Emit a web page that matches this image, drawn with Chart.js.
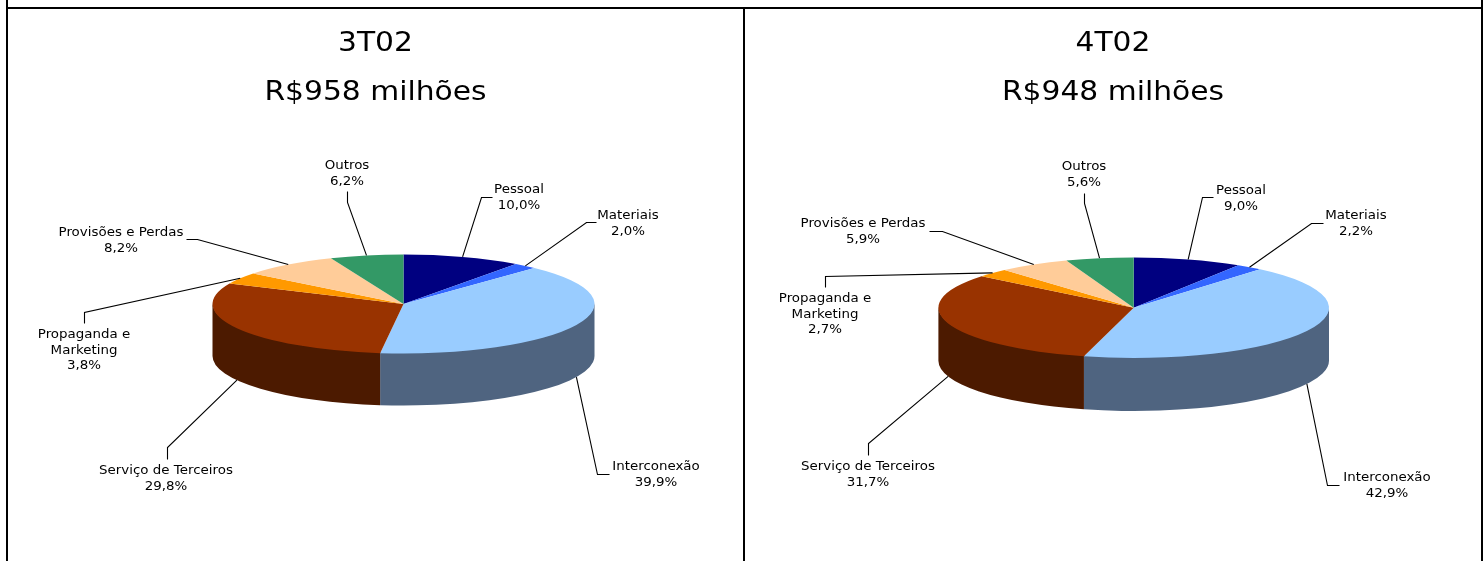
<!DOCTYPE html>
<html lang="pt-BR">
<head>
<meta charset="utf-8">
<title>3T02 / 4T02</title>
<script src="https://cdn.jsdelivr.net/npm/chart.js@4/dist/chart.umd.min.js"></script>
<style>
html,body{margin:0;padding:0;background:#fff;width:1484px;height:561px;overflow:hidden}
canvas{position:absolute;top:0}
.rule{position:absolute;background:#000}
</style>
</head>
<body>
<div class="rule" style="left:6px;top:0;width:2px;height:561px"></div>
<div class="rule" style="left:1481px;top:0;width:2px;height:561px"></div>
<div class="rule" style="left:743px;top:8px;width:2px;height:553px"></div>
<div class="rule" style="left:6px;top:7px;width:1477px;height:2px"></div>
<canvas id="c1" style="left:0"></canvas>
<canvas id="c2" style="left:744px"></canvas>
<script>
const categories = ['Pessoal','Materiais','Interconexão','Serviço de Terceiros','Propaganda e Marketing','Provisões e Perdas','Outros'];
const values3T02 = [10.0,2.0,39.9,29.8,3.8,8.2,6.2];
const values4T02 = [9.0,2.2,42.9,31.7,2.7,5.9,5.6];
const topColors  = ['#000080','#3366FF','#99CCFF','#993300','#FF9900','#FFCC99','#339966'];
const sideColors = ['#000040','#1A3380','#4F6480','#4C1A00','#804C00','#806650','#1A4C33'];
const titles3T02 = ['3T02','R$958 milhões'];
const titles4T02 = ['4T02','R$948 milhões'];

/* Label wrapping, and page-space layout of callouts (text centre x, first-line y, elbow, stub end) */
const labelLines = [['Pessoal'],['Materiais'],['Interconexão'],['Serviço de Terceiros'],['Propaganda e','Marketing'],['Provisões e Perdas'],['Outros']];
const callouts3T02 = [
  {tx:519,ty:189,elbow:[481,197],end:[492,197]},
  {tx:628,ty:215,elbow:[586,222],end:[596,222]},
  {tx:656,ty:466,elbow:[597,474],end:[609,474]},
  {tx:166,ty:470,elbow:[167,447],end:[167,459]},
  {tx:84, ty:334,elbow:[84,312], end:[84,323]},
  {tx:121,ty:232,elbow:[197,239],end:[186,239]},
  {tx:347,ty:165,elbow:[347,202],end:[347,191]}
];
const callouts4T02 = [
  {tx:1241,ty:190,elbow:[1202,197],end:[1213,197]},
  {tx:1356,ty:215,elbow:[1311,223],end:[1323,223]},
  {tx:1387,ty:477,elbow:[1327,485],end:[1339,485]},
  {tx:868, ty:466,elbow:[868,443], end:[868,455]},
  {tx:825, ty:298,elbow:[825,276], end:[825,287]},
  {tx:863, ty:223,elbow:[942,231], end:[929,231]},
  {tx:1084,ty:166,elbow:[1084,203],end:[1084,193]}
];

const LABEL_FONT = '11.5px "DejaVu Sans"';
const LABEL_STRETCH = 1.165;
const TITLE_STRETCH = 1.144;
const LINE_GAP = 15.8;

const pie3D = {
  id:'pie3D',
  afterLayout(chart){
    const o = chart.options.plugins.pie3D, tb = chart.titleBlock;
    tb.left += o.titleShift;
    tb.right += o.titleShift;
    if(!tb._stretched){
      tb._stretched = true;
      const base = tb.draw;
      tb.draw = function(){
        const ctx=this.ctx, mid=(this.left+this.right)/2;
        ctx.save();
        ctx.translate(mid,0); ctx.scale(TITLE_STRETCH,1); ctx.translate(-mid,0);
        base.apply(this,arguments);
        ctx.restore();
      };
    }
  },
  beforeDatasetDraw(chart,args,o){
    const ctx = chart.ctx, arcs = args.meta.data;
    if(!arcs.length) return;
    const cx = arcs[0].x, cy = arcs[0].y;
    arcs.forEach((el,i)=>{
      const a0=Math.max(el.startAngle,0), a1=Math.min(el.endAngle,Math.PI);
      if(a0>=a1) return;
      const rx=el.outerRadius, ry=rx*o.squash;
      ctx.beginPath();
      ctx.ellipse(cx,cy-1,rx,ry,0,a0,a1,false);
      ctx.ellipse(cx,cy+o.depth,rx,ry,0,a1,a0,true);
      ctx.closePath();
      ctx.fillStyle=sideColors[i];
      ctx.fill();
    });
    ctx.save();
    ctx.translate(cx,cy); ctx.scale(1,o.squash); ctx.translate(-cx,-cy);
  },
  afterDatasetDraw(chart){ chart.ctx.restore(); },
  afterDraw(chart,args,o){
    const ctx = chart.ctx, arcs = chart.getDatasetMeta(0).data, vals = chart.data.datasets[0].data;
    ctx.save();
    ctx.strokeStyle='#000'; ctx.lineWidth=1.1; ctx.lineJoin='miter'; ctx.fillStyle='#000';
    ctx.font=LABEL_FONT; ctx.textAlign='center'; ctx.textBaseline='middle';
    arcs.forEach((el,i)=>{
      const c=o.callouts[i], mid=(el.startAngle+el.endAngle)/2;
      const ax=el.x+Math.cos(mid)*el.outerRadius;
      let ay=el.y+Math.sin(mid)*el.outerRadius*o.squash;
      if(Math.sin(mid)>0) ay+=o.depth;
      ctx.beginPath();
      ctx.moveTo(ax,ay);
      ctx.lineTo(c.elbow[0]-o.originX+0.5,c.elbow[1]+0.5);
      ctx.lineTo(c.end[0]-o.originX+0.5,c.end[1]+0.5);
      ctx.stroke();
      const lines=[...labelLines[i],vals[i].toFixed(1).replace('.',',')+'%'];
      lines.forEach((t,k)=>{
        ctx.save();
        ctx.translate(c.tx-o.originX,c.ty+0.8+k*LINE_GAP);
        ctx.scale(LABEL_STRETCH,1);
        ctx.fillText(t,0,0);
        ctx.restore();
      });
    });
    ctx.restore();
  }
};

function makePie(id,w,values,titleLines,cfg){
  const el=document.getElementById(id);
  el.width=w; el.height=561;
  return new Chart(el,{
    type:'pie',
    data:{labels:categories,datasets:[{data:values,backgroundColor:topColors,borderWidth:0,radius:cfg.radius,clip:false}]},
    plugins:[pie3D],
    options:{
      responsive:false,animation:false,
      layout:{padding:{left:cfg.padLeft,right:0,top:0,bottom:cfg.padBottom}},
      plugins:{
        legend:{display:false},tooltip:{enabled:false},
        title:{display:true,text:titleLines,color:'#000',
          font:{family:'"DejaVu Sans"',size:26,weight:'normal',lineHeight:49/26},
          padding:{top:19.5,bottom:0}},
        pie3D:{depth:cfg.depth,squash:cfg.squash,callouts:cfg.callouts,originX:cfg.originX,titleShift:cfg.titleShift}
      }
    }
  });
}

makePie('c1',744,values3T02,titles3T02,{radius:191,padLeft:63,padBottom:70.5,depth:52,squash:49.5/191,callouts:callouts3T02,originX:0,titleShift:-28});
makePie('c2',740,values4T02,titles4T02,{radius:195.3,padLeft:39.4,padBottom:63.1,depth:53,squash:50.3/195.3,callouts:callouts4T02,originX:744,titleShift:-20.7});
</script>
</body>
</html>
